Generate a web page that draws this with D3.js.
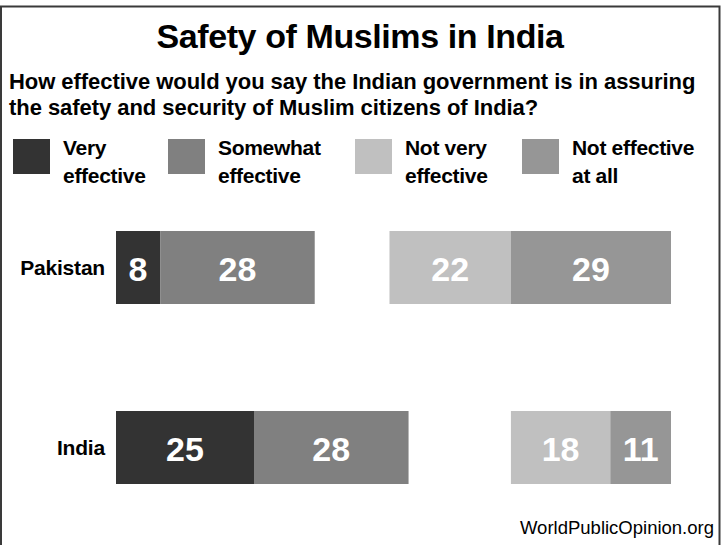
<!DOCTYPE html>
<html lang="en">
<head>
    <meta charset="UTF-8">
    <script src="https://d3js.org/d3.v7.min.js"></script>
    <title>Safety of Muslims in India</title>
    <style>
        body { margin: 0; background: #fff; }
        text { font-family: "Liberation Sans", Arial, sans-serif; }
    </style>
</head>
<body>
    <svg id="chart" width="721" height="545"></svg>
    <script>
        // data
        var countries = ["Pakistan", "India"]
        var answers = ["Very effective", "Somewhat effective", "Not very effective", "Not effective at all"]
        var legendLines = [["Very", "effective"], ["Somewhat", "effective"], ["Not very", "effective"], ["Not effective", "at all"]]
        var veryEffective = [8, 25]
        var somewhatEffective = [28, 28]
        var notVeryEffective = [22, 18]
        var notEffectiveAtAll = [29, 11]
        var colors = ["#333333", "#808080", "#c0c0c0", "#969696"]

        const svg = d3.select("#chart")

        // frame
        svg.append("path")
            .attr("d", "M1,546V6.5H719.5V546")
            .attr("fill", "none")
            .attr("stroke", "#3a3a3a")
            .attr("stroke-width", 2)

        svg.append("text")
            .attr("x", 360).attr("y", 48)
            .attr("text-anchor", "middle")
            .attr("font-size", 34).attr("font-weight", "bold")
            .attr("letter-spacing", -0.4)
            .text("Safety of Muslims in India")

        const sub = ["How effective would you say the Indian government is in assuring",
            "the safety and security of Muslim citizens of India?"]
        svg.selectAll(".sub").data(sub).join("text")
            .attr("class", "sub")
            .attr("x", 9).attr("y", (d, i) => 89 + i * 26)
            .attr("font-size", 22).attr("font-weight", "bold")
            .attr("letter-spacing", -0.05)
            .text(d => d)

        // legend
        const legendX = [13, 168, 355, 522]
        const lg = svg.selectAll(".leg").data(answers).join("g")
            .attr("class", "leg")
            .attr("transform", (d, i) => `translate(${legendX[i]},139)`)
        lg.append("rect")
            .attr("width", 37).attr("height", 35)
            .attr("fill", (d, i) => colors[i])
        lg.append("text")
            .attr("font-size", 21).attr("font-weight", "bold")
            .attr("letter-spacing", -0.3)
            .selectAll("tspan")
            .data((d, i) => legendLines[i])
            .join("tspan")
            .attr("x", 50).attr("y", (d, i) => 16 + i * 28)
            .text(d => d)

        // bars
        const x = d3.scaleLinear().domain([0, 100]).range([0, 552])
        const y = d3.scalePoint().domain(countries).range([231, 411])
        const barH = 73
        const leftStart = 116, rightEnd = 671

        const rows = countries.map((c, i) => {
            const v = [veryEffective[i], somewhatEffective[i], notVeryEffective[i], notEffectiveAtAll[i]]
            const r0 = rightEnd - x(v[2] + v[3])
            return [
                { c, v: v[0], x0: leftStart, k: 0 },
                { c, v: v[1], x0: leftStart + x(v[0]), k: 1 },
                { c, v: v[2], x0: r0, k: 2 },
                { c, v: v[3], x0: r0 + x(v[2]), k: 3 }
            ]
        }).flat()

        svg.selectAll(".bar").data(rows).join("rect")
            .attr("class", "bar")
            .attr("x", d => d.x0)
            .attr("y", d => y(d.c))
            .attr("width", d => x(d.v))
            .attr("height", barH)
            .attr("fill", d => colors[d.k])

        svg.selectAll(".val").data(rows).join("text")
            .attr("class", "val")
            .attr("x", d => d.x0 + x(d.v) / 2)
            .attr("y", d => y(d.c) + barH / 2 + 13)
            .attr("text-anchor", "middle")
            .attr("font-size", 34).attr("font-weight", "bold")
            .attr("fill", "#fff")
            .text(d => d.v)

        svg.selectAll(".cat").data(countries).join("text")
            .attr("class", "cat")
            .attr("x", 105)
            .attr("y", d => y(d) + barH / 2 + 7)
            .attr("text-anchor", "end")
            .attr("font-size", 21).attr("font-weight", "bold")
            .attr("letter-spacing", -0.2)
            .text(d => d)

        svg.append("text")
            .attr("x", 714).attr("y", 534)
            .attr("text-anchor", "end")
            .attr("font-size", 18.5)
            .text("WorldPublicOpinion.org")
    </script>
</body>
</html>
